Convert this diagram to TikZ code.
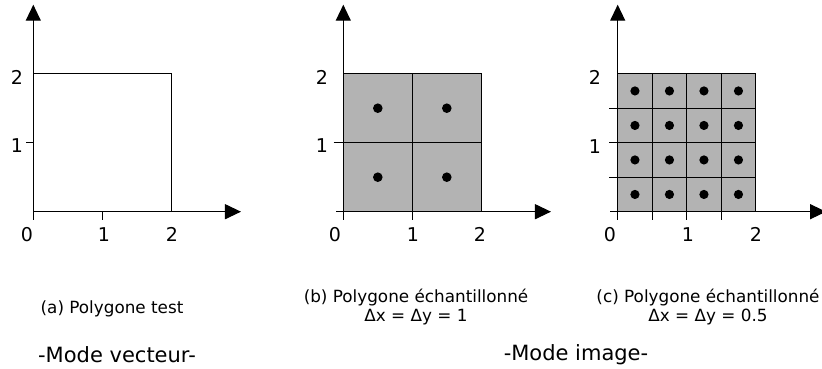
\documentclass[tikz,border=0pt]{standalone}
\usepackage{fontspec}
\setmainfont{DejaVu Sans}
\usetikzlibrary{arrows.meta}
\definecolor{cellgray}{RGB}{179,179,179}
\begin{document}
\begin{tikzpicture}[x=1pt,y=-1pt,
  ax/.style={line width=1.2pt,-{Triangle[length=16pt,width=15pt]}},
  ln/.style={line width=1.2pt},
  dotmark/.style={fill=black},
  cellfill/.style={fill=cellgray},
  lab/.style={font=\fontsize{19}{22}\selectfont, inner sep=0pt},
  captxt/.style={font=\fontsize{16.8}{19}\selectfont, align=center, inner sep=0pt},
  modetxt/.style={font=\fontsize{21}{24}\selectfont, inner sep=0pt}]
\useasboundingbox (0,0) rectangle (822,369);

% ---------- (a) ----------
\begin{scope}[shift={(33.3,211.7)},x=69pt,y=69pt]
  \draw[ln] (0,0) rectangle (2,2);
  \draw[ln] (1,0) -- (1,-0.12);
  \draw[ln] (-0.1,1) -- (0,1);
  \draw[ax] (0,-0.12) -- (0,3);
  \draw[ax] (0,0) -- (3.01,0);
\end{scope}
\node[lab] (ax0) at (27,234.5) {0};
\node[lab] (ax1) at (104,234.5) {1};
\node[lab] (ax2) at (172,234.5) {2};
\node[lab] (ay2) at (17,77) {2};
\node[lab] (ay1) at (17,146) {1};

% ---------- (b) ----------
\begin{scope}[shift={(343.3,211.7)},x=69pt,y=69pt]
  \fill[cellfill] (0,0) rectangle (2,2);
  \draw[ln] (0,0) rectangle (2,2);
  \draw[ln] (1,-0.12) -- (1,2);
  \draw[ln] (-0.14,1) -- (2,1);
  \draw[ax] (0,-0.12) -- (0,3);
  \draw[ax] (-0.1,0) -- (3.01,0);
  \foreach \i in {0.5,1.5}{
    \foreach \j in {0.5,1.5}{
      \fill[dotmark] (\i,\j) circle[radius=4.8pt];
    }
  }
\end{scope}
\node[lab] (bx0) at (335,234.5) {0};
\node[lab] (bx1) at (413,234.5) {1};
\node[lab] (bx2) at (480,234.5) {2};
\node[lab] (by2) at (322,77) {2};
\node[lab] (by1) at (322,146) {1};

% ---------- (c) ----------
\begin{scope}[shift={(617.7,211.7)},x=69pt,y=69pt]
  \fill[cellfill] (0,0) rectangle (2,2);
  \draw[ln] (0,0) rectangle (2,2);
  \foreach \k in {0.5,1,1.5}{
    \draw[ln] (\k,-0.12) -- (\k,2);
    \draw[ln] (-0.12,\k) -- (2,\k);
  }
  \draw[ax] (0,-0.12) -- (0,3);
  \draw[ax] (-0.11,0) -- (3.02,0);
  \foreach \i in {0.25,0.75,1.25,1.75}{
    \foreach \j in {0.25,0.75,1.25,1.75}{
      \fill[dotmark] (\i,\j) circle[radius=4.6pt];
    }
  }
\end{scope}
\node[lab] (cx0) at (610,234.5) {0};
\node[lab] (cx1) at (688,234.5) {1};
\node[lab] (cx2) at (756,234.5) {2};
\node[lab] (cy2) at (595,77) {2};
\node[lab] (cy1) at (595,147) {1};

% ---------- captions ----------
\node[captxt] (capa) at (112,308.5) {(a) Polygone test};
\node[captxt] (capb) at (416,307) {(b) Polygone échantillonné\\ Δx = Δy = 1};
\node[captxt] (capc) at (708,307) {(c) Polygone échantillonné\\ Δx = Δy = 0.5};
\node[modetxt] (modev) at (117,355) {-Mode vecteur-};
\node[modetxt] (modei) at (576,355) {-Mode image-};
\end{tikzpicture}
\end{document}
